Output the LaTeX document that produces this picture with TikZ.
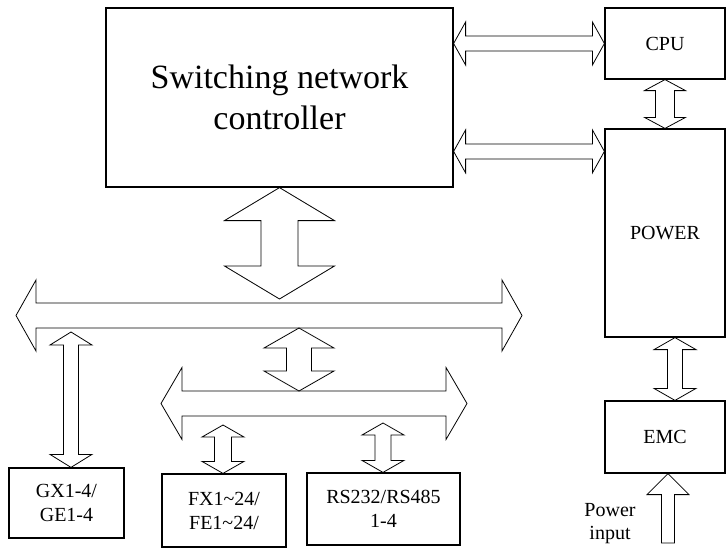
\documentclass[tikz,border=0pt]{standalone}
\usepackage{fontspec}
\setmainfont{Liberation Serif}
\usetikzlibrary{calc, positioning}

% hollow two-headed arrow, top point #1 down to bottom point #2
\newcommand{\vbiarrow}[5]{%
  \draw[hollow] let \p1=#1, \p2=#2 in
    (\x1,\y1) -- (\x1+#4pt,\y1-#5pt) -- (\x1+#3pt,\y1-#5pt) -- (\x1+#3pt,\y2+#5pt)
    -- (\x1+#4pt,\y2+#5pt) -- (\x1,\y2) -- (\x1-#4pt,\y2+#5pt) -- (\x1-#3pt,\y2+#5pt)
    -- (\x1-#3pt,\y1-#5pt) -- (\x1-#4pt,\y1-#5pt) -- cycle;}
% same thing lying down, left point #1 to right point #2
\newcommand{\hbiarrow}[5]{%
  \draw[hollow] let \p1=#1, \p2=#2 in
    (\x1,\y1) -- (\x1+#5pt,\y1+#4pt) -- (\x1+#5pt,\y1+#3pt) -- (\x2-#5pt,\y1+#3pt)
    -- (\x2-#5pt,\y1+#4pt) -- (\x2,\y1) -- (\x2-#5pt,\y1-#4pt) -- (\x2-#5pt,\y1-#3pt)
    -- (\x1+#5pt,\y1-#3pt) -- (\x1+#5pt,\y1-#4pt) -- cycle;}
% one head only, from bottom point #1 up to tip #2
\newcommand{\upblkarrow}[5]{%
  \draw[hollow] let \p1=#1, \p2=#2 in
    (\x2,\y2) -- (\x2+#4pt,\y2-#5pt) -- (\x2+#3pt,\y2-#5pt) -- (\x2+#3pt,\y1)
    -- (\x2-#3pt,\y1) -- (\x2-#3pt,\y2-#5pt) -- (\x2-#4pt,\y2-#5pt) -- cycle;}

\begin{document}
\begin{tikzpicture}[x=1pt, y=-1pt, blockbox/.style={draw, line width=1.2pt, inner sep=0pt, align=center, font=\fontsize{20}{24}\selectfont}, hollow/.style={draw, line width=0.8pt, line join=miter}]
  \useasboundingbox (0,0) rectangle (726,549);

  \node[blockbox, minimum width=347pt, minimum height=179pt, font=\fontsize{34}{41}\selectfont] (snc) at (279.5,97.5) {Switching network\\controller};
  \node[blockbox, minimum width=120pt, minimum height=71pt] (cpu) at (665,43.5) {CPU};
  \node[blockbox, minimum width=120pt, minimum height=208pt] (power) at (665,233) {POWER};
  \node[blockbox, minimum width=120pt, minimum height=72pt] (emc) at (665,437) {EMC};
  \node[blockbox, minimum width=115pt, minimum height=70pt] (gx) at (66.5,503) {GX1-4/\\GE1-4};
  \node[blockbox, minimum width=124pt, minimum height=73pt] (fx) at (224,510.5) {FX1\textasciitilde 24/\\FE1\textasciitilde 24/};
  \node[blockbox, minimum width=153pt, minimum height=72pt] (rs) at (383.5,509) {RS232/RS485\\1-4};
  \node[align=center, font=\fontsize{20}{23}\selectfont] (pwrin) at (610,524) {Power\\input};

  % bus ends and free arrow ends
  \coordinate (bus1w) at (16,315.5);
  \coordinate (bus1e) at (522,315.5);
  \coordinate (bus2w) at (161,403.5);
  \coordinate (bus2e) at (467,403.5);
  \coordinate (b1n) at (279.5,299);
  \coordinate (b1s) at (299,328);
  \coordinate (b2n) at (299,391);
  \coordinate (gxn) at (71,332);
  \coordinate (fxn) at (223,425);
  \coordinate (rsn) at (383,423);
  \coordinate (pw1) at ($(power.north west)+(0,23)$);
  \coordinate (pin) at (668,543);

  \hbiarrow{(snc.east |- cpu.west)}{(cpu.west)}{7.5}{21.5}{12}
  \hbiarrow{(snc.east |- pw1)}{(pw1)}{7.5}{21.5}{12}
  \vbiarrow{(cpu.south)}{(power.north)}{9.5}{20.5}{11}
  \vbiarrow{($(power.south)+(10,0)$)}{($(emc.north)+(10,0)$)}{7.5}{21}{12}
  \upblkarrow{(pin)}{(pin |- emc.south)}{6.5}{21}{21}

  \vbiarrow{(snc.south)}{(b1n)}{18.5}{55}{33}
  \hbiarrow{(bus1w)}{(bus1e)}{12.5}{35.5}{20}
  \vbiarrow{(b1s)}{(b2n)}{12.5}{35}{20}
  \hbiarrow{(bus2w)}{(bus2e)}{12.5}{36}{21}

  \vbiarrow{(gxn)}{(gxn |- gx.north)}{7.5}{21}{13}
  \vbiarrow{(fxn)}{(fxn |- fx.north)}{8.5}{21}{12}
  \vbiarrow{(rsn)}{(rsn |- rs.north)}{8}{21}{12}
\end{tikzpicture}
\end{document}
